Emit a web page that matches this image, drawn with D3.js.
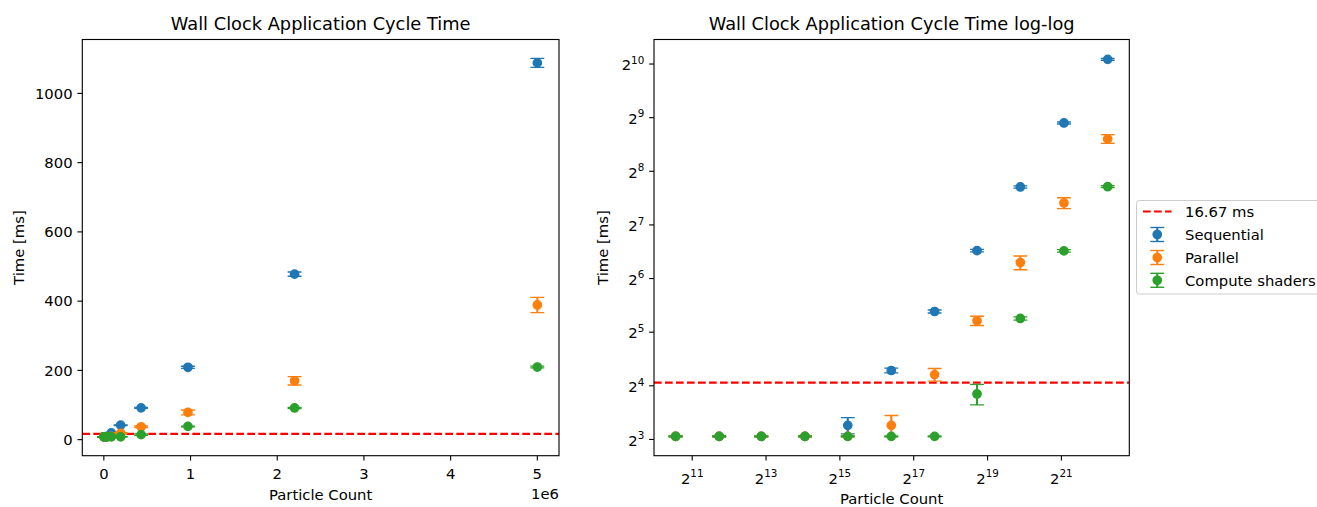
<!DOCTYPE html>
<html>
<head>
<meta charset="utf-8">
<script src="https://cdn.jsdelivr.net/npm/d3@7"></script>
<style>
  body { margin: 0; background: #fff; }
  svg text { font-family: "DejaVu Sans", sans-serif; fill: #000; }
</style>
</head>
<body>
<svg id="chart" width="1317" height="507"></svg>
<script>
// particle counts (shared by every series)
const counts = [1500, 3400, 7500, 17000, 38000, 86000, 194000, 430000, 970000, 2200000, 5000000];

const seqMean = [8.33, 8.33, 8.33, 8.33, 9.6, 19.5, 41.8, 91.8, 209, 478, 1088];
const seqErr  = [0.05, 0.05, 0.05, 0.05, 1.0, 0.6, 0.8, 1.5, 3, 6, 13];

const parMean = [8.33, 8.33, 8.33, 8.33, 8.33, 9.6, 18.5, 37.1, 78.7, 170, 389];
const parErr  = [0.05, 0.05, 0.05, 0.05, 0.05, 1.3, 1.5, 2.2, 7, 12, 22];

const gpuMean = [8.33, 8.33, 8.33, 8.33, 8.33, 8.33, 8.33, 14.4, 38.2, 91.5, 209.7];
const gpuErr  = [0.05, 0.05, 0.05, 0.05, 0.05, 0.05, 0.05, 1.9, 0.8, 1.5, 2.5];

const frameLimit = 16.67;

const seriesNames = ['Sequential', 'Parallel', 'Compute shaders'];
const seriesColors = ['#1f77b4', '#ff7f0e', '#2ca02c'];

const linTicksX = [0, 1e6, 2e6, 3e6, 4e6, 5e6];
const linTicksY = [0, 200, 400, 600, 800, 1000];
const logTicksX = [11, 13, 15, 17, 19, 21];
const logTicksY = [3, 4, 5, 6, 7, 8, 9, 10];

const series = seriesNames.map((name, k) => {
  const mean = [seqMean, parMean, gpuMean][k], err = [seqErr, parErr, gpuErr][k];
  return {name, color: seriesColors[k], pts: counts.map((c, i) => ({x: c, y: mean[i], e: err[i]}))};
});

const svg = d3.select('#chart');
svg.append('rect').attr('width', 1317).attr('height', 507).attr('fill', '#fff');

const pt = 100 / 72, fs = 14.8, fsTitle = 17.8;
const allPts = series.flatMap(s => s.pts);
const lo = d3.min(allPts, d => d.y - d.e), hi = d3.max(allPts, d => d.y + d.e);
const xMin = d3.min(counts), xMax = d3.max(counts);

function pad(a, b) { const r = b - a; return [a - r * 0.05, b + r * 0.05]; }

const boxL = {l: 82.3, r: 559, t: 39.5, b: 455.7};
const boxR = {l: 654, r: 1129.3, t: 39.5, b: 455.7};

const xL = d3.scaleLinear().domain(pad(xMin, xMax)).range([boxL.l, boxL.r]);
const yL = d3.scaleLinear().domain(pad(lo, hi)).range([boxL.b, boxL.t]);
const xR = d3.scaleLog().base(2).domain(pad(Math.log2(xMin), Math.log2(xMax)).map(v => 2 ** v)).range([boxR.l, boxR.r]);
const yR = d3.scaleLog().base(2).domain(pad(Math.log2(lo), Math.log2(hi)).map(v => 2 ** v)).range([boxR.b, boxR.t]);

function drawPanel(box, x, y, title, ticksX, ticksY, fmtX, fmtY, idx) {
  const g = svg.append('g');
  const clipId = 'clip' + idx;
  g.append('clipPath').attr('id', clipId).append('rect')
    .attr('x', box.l).attr('y', box.t).attr('width', box.r - box.l).attr('height', box.b - box.t);
  const plot = g.append('g').attr('clip-path', `url(#${clipId})`);

  // frame rate limit line
  plot.append('line')
    .attr('x1', box.l).attr('x2', box.r)
    .attr('y1', y(frameLimit)).attr('y2', y(frameLimit))
    .attr('stroke', '#ff0000').attr('stroke-width', 1.5 * pt)
    .attr('stroke-dasharray', '7.7,3.3');

  series.forEach(s => {
    const sg = plot.append('g');
    const cap = 5 * pt;
    s.pts.forEach(d => {
      const cx = x(d.x), y1 = y(d.y - d.e), y2 = y(d.y + d.e);
      sg.append('line').attr('x1', cx).attr('x2', cx).attr('y1', y1).attr('y2', y2)
        .attr('stroke', s.color).attr('stroke-width', 1.5 * pt);
      [y1, y2].forEach(yy => sg.append('line')
        .attr('x1', cx - cap).attr('x2', cx + cap).attr('y1', yy).attr('y2', yy)
        .attr('stroke', s.color).attr('stroke-width', pt));
    });
    sg.selectAll('circle').data(s.pts).enter().append('circle')
      .attr('cx', d => x(d.x)).attr('cy', d => y(d.y))
      .attr('r', 3 * pt).attr('fill', s.color)
      .attr('stroke', s.color).attr('stroke-width', pt);
  });

  // spines
  g.append('rect').attr('x', box.l).attr('y', box.t)
    .attr('width', box.r - box.l).attr('height', box.b - box.t)
    .attr('fill', 'none').attr('stroke', '#000').attr('stroke-width', 0.8 * pt);

  const tl = 3.5 * pt;
  ticksX.forEach(v => {
    const px = x(v);
    g.append('line').attr('x1', px).attr('x2', px).attr('y1', box.b).attr('y2', box.b + tl)
      .attr('stroke', '#000').attr('stroke-width', 0.8 * pt);
    fmtX(g, px, v);
  });
  ticksY.forEach(v => {
    const py = y(v);
    g.append('line').attr('x1', box.l - tl).attr('x2', box.l).attr('y1', py).attr('y2', py)
      .attr('stroke', '#000').attr('stroke-width', 0.8 * pt);
    fmtY(g, box.l - 2 * tl, py, v);
  });

  g.append('text').attr('x', (box.l + box.r) / 2).attr('y', 29.5)
    .attr('text-anchor', 'middle').attr('font-size', fsTitle).text(title);
}

function supLabel(g, x, y, exp, anchor) {
  const t = g.append('text').attr('x', x).attr('y', y).attr('text-anchor', anchor).attr('font-size', fs);
  t.append('tspan').text('2');
  t.append('tspan').attr('font-size', fs * 0.7).attr('dy', -6.5).text(exp);
}

drawPanel(boxL, xL, yL, 'Wall Clock Application Cycle Time', linTicksX, linTicksY,
  (g, px, v) => g.append('text').attr('x', px).attr('y', 478.5).attr('text-anchor', 'middle')
    .attr('font-size', fs).text(v / 1e6),
  (g, px, py, v) => g.append('text').attr('x', px).attr('y', py + 5.3).attr('text-anchor', 'end')
    .attr('font-size', fs).text(v), 0);

drawPanel(boxR, xR, yR, 'Wall Clock Application Cycle Time log-log',
  logTicksX.map(e => 2 ** e), logTicksY.map(e => 2 ** e),
  (g, px, v) => supLabel(g, px, 483.5, Math.round(Math.log2(v)), 'middle'),
  (g, px, py, v) => supLabel(g, px, py + 6.3, Math.round(Math.log2(v)), 'end'), 1);

// axis labels
svg.append('text').attr('x', (boxL.l + boxL.r) / 2).attr('y', 499.5).attr('text-anchor', 'middle')
  .attr('font-size', fs).text('Particle Count');
svg.append('text').attr('x', boxL.r).attr('y', 498.5).attr('text-anchor', 'end')
  .attr('font-size', fs).text('1e6');
svg.append('text').attr('x', (boxR.l + boxR.r) / 2).attr('y', 504).attr('text-anchor', 'middle')
  .attr('font-size', fs).text('Particle Count');
[[24, boxL], [608, boxR]].forEach(([lx, box]) => {
  const cy = (box.t + box.b) / 2;
  svg.append('text').attr('transform', `translate(${lx},${cy}) rotate(-90)`)
    .attr('text-anchor', 'middle').attr('font-size', fs).text('Time [ms]');
});

// legend
const leg = svg.append('g');
leg.append('rect').attr('x', 1136.5).attr('y', 200.5).attr('width', 190).attr('height', 93.5)
  .attr('rx', 2.8).attr('fill', '#fff').attr('fill-opacity', 0.8)
  .attr('stroke', '#cccccc').attr('stroke-width', 1);
const rowsY = [211.5, 234.5, 257.5, 280.3];
const hx0 = 1143, hx1 = 1171.5, hxc = (hx0 + hx1) / 2;
leg.append('line').attr('x1', hx0).attr('x2', hx1).attr('y1', rowsY[0]).attr('y2', rowsY[0])
  .attr('stroke', '#ff0000').attr('stroke-width', 1.5 * pt).attr('stroke-dasharray', '7.7,3.3');
leg.append('text').attr('x', 1185).attr('y', rowsY[0] + 5.3).attr('font-size', fs).text(frameLimit + ' ms');
series.forEach((s, i) => {
  const ry = rowsY[i + 1];
  leg.append('line').attr('x1', hxc).attr('x2', hxc).attr('y1', ry - 7).attr('y2', ry + 7)
    .attr('stroke', s.color).attr('stroke-width', 1.5 * pt);
  [ry - 7, ry + 7].forEach(yy => leg.append('line').attr('x1', hxc - 5 * pt).attr('x2', hxc + 5 * pt)
    .attr('y1', yy).attr('y2', yy).attr('stroke', s.color).attr('stroke-width', pt));
  leg.append('circle').attr('cx', hxc).attr('cy', ry).attr('r', 3 * pt).attr('fill', s.color)
    .attr('stroke', s.color).attr('stroke-width', pt);
  leg.append('text').attr('x', 1185).attr('y', ry + 5.3).attr('font-size', fs).text(s.name);
});
</script>
</body>
</html>
